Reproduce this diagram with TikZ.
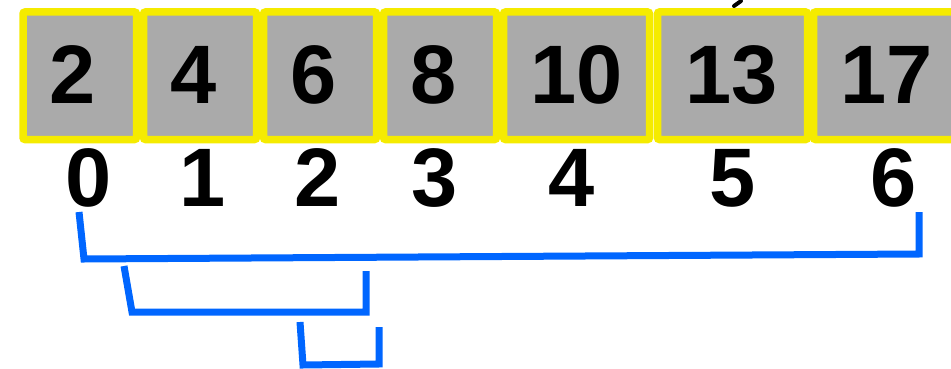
\documentclass[tikz,border=0pt]{standalone}
\usepackage{fontspec}
\setmainfont{Liberation Sans}
\definecolor{boxyellow}{RGB}{245,235,0}
\definecolor{boxgray}{RGB}{170,170,170}
\definecolor{brblue}{RGB}{0,102,255}
\begin{document}
\begin{tikzpicture}[x=1pt,y=-1pt,
  cell/.style={draw=boxyellow, fill=boxgray, line width=7.5pt, rounded corners=2pt,
    minimum height=127.5pt, inner sep=0pt, outer sep=0pt},
  val/.style={anchor=base, inner sep=0pt, font=\fontsize{83}{92}\selectfont\bfseries},
  idx/.style={anchor=base, inner sep=0pt, font=\fontsize{83}{92}\selectfont\bfseries},
  bracket/.style={draw=brblue, line width=7pt, line join=miter}]
\useasboundingbox (0,0) rectangle (951,369);
% cells
\node[cell, minimum width=113.5pt] (c1) at (79.75,75.75) {};
\node[cell, minimum width=113pt] (c2) at (200,75.75) {};
\node[cell, minimum width=113pt] (c3) at (320,75.75) {};
\node[cell, minimum width=113pt] (c4) at (440,75.75) {};
\node[cell, minimum width=146pt] (c5) at (576.5,75.75) {};
\node[cell, minimum width=150pt] (c6) at (732.5,75.75) {};
\node[cell, minimum width=150pt] (c7) at (888.5,75.75) {};
% values
\node[val] (v1) at (73,103) {2};
\node[val] (v2) at (194,103) {4};
\node[val] (v3) at (314,103) {6};
\node[val] (v4) at (434,103) {8};
\node[val] (v5) at (577,103) {10};
\node[val] (v6) at (732,103) {13};
\node[val] (v7) at (887,103) {17};
% indices
\node[idx] (i0) at (89,206) {0};
\node[idx] (i1) at (203,206) {1};
\node[idx] (i2) at (318,206) {2};
\node[idx] (i3) at (435,206) {3};
\node[idx] (i4) at (572,206) {4};
\node[idx] (i5) at (733,206) {5};
\node[idx] (i6) at (894,206) {6};
% fragment of text above (cut off)
\draw[line width=4pt, line cap=round] (734,6) -- (741,1);
% brackets
\coordinate (a1) at (79,212);
\coordinate (a2) at (84,259);
\coordinate (a3) at (919,254);
\coordinate (a4) at (919,212);
\coordinate (b1) at (124,266);
\coordinate (b2) at (132,312);
\coordinate (b3) at (366,312);
\coordinate (b4) at (366,271);
\coordinate (d1) at (300,322);
\coordinate (d2) at (303,365);
\coordinate (d3) at (379,364);
\coordinate (d4) at (379,327);
\draw[bracket] (a1) -- (a2) -- (a3) -- (a4);
\draw[bracket] (b1) -- (b2) -- (b3) -- (b4);
\draw[bracket] (d1) -- (d2) -- (d3) -- (d4);
\end{tikzpicture}
\end{document}
